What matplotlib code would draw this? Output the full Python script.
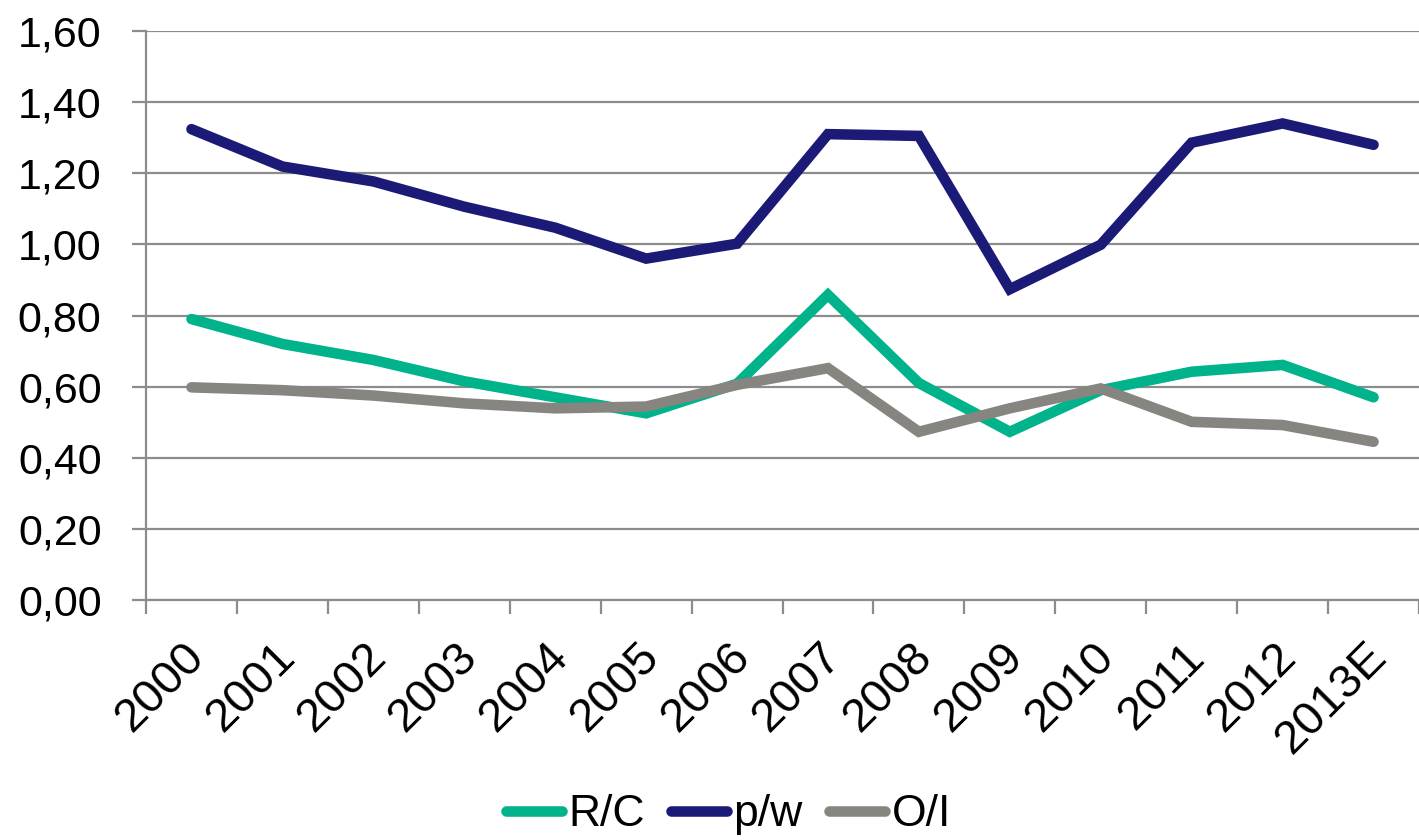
import matplotlib
matplotlib.use("Agg")
import matplotlib.pyplot as plt
import numpy as np

plt.rcParams['font.family'] = ['Liberation Sans', 'DejaVu Sans']

years = ["2000", "2001", "2002", "2003", "2004", "2005", "2006",
         "2007", "2008", "2009", "2010", "2011", "2012", "2013E"]
rc = [0.79, 0.72, 0.675, 0.615, 0.57, 0.525, 0.608, 0.858, 0.61, 0.473, 0.59, 0.642, 0.661, 0.57]
pw = [1.324, 1.219, 1.177, 1.106, 1.047, 0.96, 1.002, 1.31, 1.305, 0.874, 0.999, 1.286, 1.34, 1.28]
oi = [0.598, 0.59, 0.575, 0.553, 0.539, 0.544, 0.605, 0.652, 0.473, 0.539, 0.595, 0.501, 0.492, 0.445]

series_names = ["R/C", "p/w", "O/I"]
colors = ["#00B38A", "#1B1A77", "#878580"]
grid_col = "#8C8C8C"

fig = plt.figure(figsize=(14.19, 8.4), dpi=100)
ax = fig.add_axes([0.1029, 0.2857, 0.8971, 0.6774])

x = np.arange(len(years))
for vals, name, c in zip([rc, pw, oi], series_names, colors):
    ax.plot(x, vals, color=c, lw=7.6, label=name,
            solid_capstyle="round", solid_joinstyle="miter", zorder=3)

ax.set_xlim(-0.5, len(years) - 0.5)
ax.set_ylim(0, 1.6)

yt = np.arange(0, 1.61, 0.2)
ax.set_yticks(yt)
ax.set_yticklabels([f"{v:.2f}".replace(".", ",") for v in yt], fontsize=31)
ax.yaxis.grid(True, color=grid_col, lw=1.6)
ax.set_axisbelow(True)

# tick marks sit between categories; labels (no marks) slightly left of centre
ax.set_xticks(np.arange(-0.5, len(years), 1.0))
ax.set_xticklabels([])
ax.set_xticks(x - 0.1, minor=True)
ax.set_xticklabels(years, minor=True, rotation=45, ha="right", va="top",
                   rotation_mode="anchor", fontsize=34)
ax.tick_params(axis="x", which="major", length=10, width=1.6, color=grid_col, direction="out")
ax.tick_params(axis="x", which="minor", length=0, pad=25)
ax.tick_params(axis="y", length=10, width=1.6, color=grid_col, pad=22)

for s in ["top", "right"]:
    ax.spines[s].set_visible(False)
for s in ["left", "bottom"]:
    ax.spines[s].set_color(grid_col)
    ax.spines[s].set_linewidth(1.6)

fig.legend(loc="center", bbox_to_anchor=(0.5134, 0.03), ncol=3, frameon=False,
           fontsize=32, handlelength=1.25, handletextpad=0.15, columnspacing=0.6,
           borderaxespad=0, borderpad=0)

fig.savefig("out.png", dpi=100)
